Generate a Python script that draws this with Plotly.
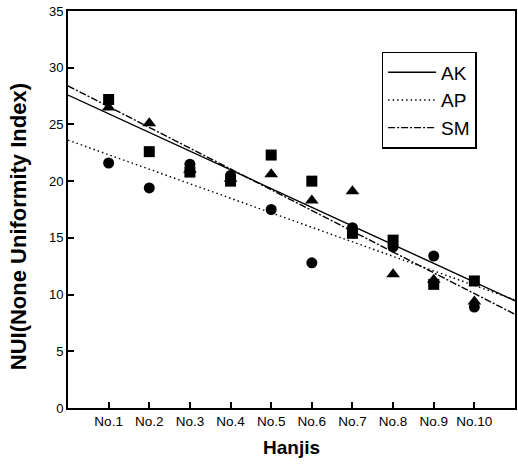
import numpy as np
import plotly.graph_objects as go

hanjis = ["No.1", "No.2", "No.3", "No.4", "No.5", "No.6", "No.7", "No.8", "No.9", "No.10"]
x_pos = list(range(1, 11))
ak_values = [27.2, 22.6, 20.8, 20.0, 22.3, 20.0, 15.4, 14.8, 10.9, 11.2]
ap_values = [21.6, 19.4, 21.5, 20.5, 17.5, 12.8, 15.9, 14.2, 13.4, 8.9]
sm_values = [26.5, 25.1, 21.0, 20.2, 20.6, 18.3, 19.1, 11.8, 11.3, 9.4]

series = [
    ("AK", ak_values, "square", "solid"),
    ("AP", ap_values, "circle", "1.5px,3px"),
    ("SM", sm_values, "triangle-up", "7px,2px,2px,2px"),
]

fig = go.Figure()
x_line = np.array([0.0, 11.0])
for name, vals, sym, dash in series:
    fig.add_trace(go.Scatter(
        x=x_pos, y=vals, mode="markers",
        marker=dict(symbol=sym, size=11 if sym != "triangle-up" else 12, color="black"),
        showlegend=False, hoverinfo="skip"))
    slope, intercept = np.polyfit(x_pos, vals, 1)
    fig.add_trace(go.Scatter(
        x=x_line, y=slope * x_line + intercept, mode="lines", name=name,
        line=dict(color="black", width=1.4, dash=dash)))

fig.update_layout(
    width=518, height=465,
    margin=dict(l=68, r=1, t=11, b=57),
    paper_bgcolor="white", plot_bgcolor="white",
    font=dict(family="Liberation Sans, Arial, sans-serif", color="black"),
    legend=dict(
        x=0.7016, y=0.897, xanchor="left", yanchor="top",
        bordercolor="black", borderwidth=1.5, bgcolor="white",
        font=dict(size=19), tracegroupgap=0, itemwidth=48,
    ),
    xaxis=dict(
        range=[0, 11], tickvals=x_pos, ticktext=hanjis,
        ticks="inside", ticklen=6, tickwidth=1.5, tickcolor="black",
        showline=True, linecolor="black", linewidth=2, mirror=True,
        showgrid=False, zeroline=False,
        tickfont=dict(size=13.5),
        title=dict(text="<b>Hanjis</b>", font=dict(size=19), standoff=12),
    ),
    yaxis=dict(
        range=[0, 35], dtick=5,
        ticks="inside", ticklen=6, tickwidth=1.5, tickcolor="black",
        showline=True, linecolor="black", linewidth=2, mirror=True,
        showgrid=False, zeroline=False,
        tickfont=dict(size=13),
    ),
    annotations=[dict(
        text="<b>NUI(None Uniformity Index)</b>", textangle=-90,
        xref="paper", yref="paper", x=-0.109, y=0.456,
        xanchor="center", yanchor="middle", showarrow=False,
        font=dict(size=22),
    )],
)

fig.write_html("out.html")
